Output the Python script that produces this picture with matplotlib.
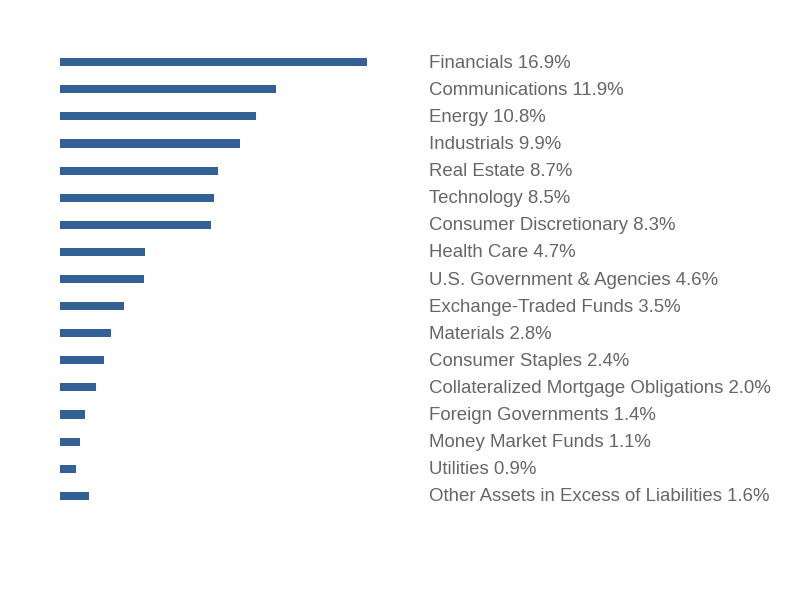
import matplotlib.pyplot as plt
import matplotlib.transforms as mtransforms

sectors = ["Financials", "Communications", "Energy", "Industrials", "Real Estate",
           "Technology", "Consumer Discretionary", "Health Care",
           "U.S. Government & Agencies", "Exchange-Traded Funds", "Materials",
           "Consumer Staples", "Collateralized Mortgage Obligations",
           "Foreign Governments", "Money Market Funds", "Utilities",
           "Other Assets in Excess of Liabilities"]
weights = [16.9, 11.9, 10.8, 9.9, 8.7, 8.5, 8.3, 4.7, 4.6, 3.5, 2.8, 2.4,
           2.0, 1.4, 1.1, 0.9, 1.6]

plt.rcParams['font.family'] = ['Liberation Sans', 'DejaVu Sans']

fig = plt.figure(figsize=(7.92, 6), dpi=100)
ax = fig.add_axes([60 / 792, 0.151, 307 / 792, 0.768])

pos = list(range(len(sectors)))
ax.barh(pos, weights, height=0.3, color="#336195")
ax.set_xlim(0, 16.9)
ax.set_ylim(len(sectors) - 0.5, -0.5)
ax.axis("off")

trans = mtransforms.blended_transform_factory(fig.transFigure, ax.transData)
for p, name, w in zip(pos, sectors, weights):
    ax.text(429 / 792, p + 0.04, f"{name} {w}%", transform=trans, ha="left",
            va="center", fontsize=13.4, color="#666666")

fig.savefig("out.png", dpi=100)
